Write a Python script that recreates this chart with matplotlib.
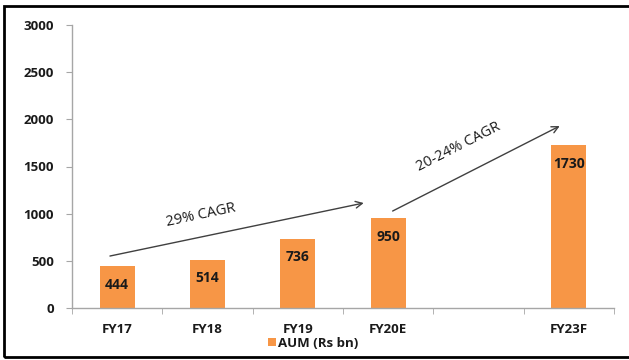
import matplotlib.pyplot as plt
from matplotlib.patches import Rectangle

plt.rcParams['font.family'] = ['Open Sans', 'DejaVu Sans']

# data
categories = ['FY17', 'FY18', 'FY19', 'FY20E', '', 'FY23F']
aum = [444, 514, 736, 950, None, 1730]
y_ticks = [0, 500, 1000, 1500, 2000, 2500, 3000]
series_name = 'AUM (Rs bn)'

bar_color = '#F79646'
axis_color = '#A6A6A6'
text_color = '#1A1A1A'

fig = plt.figure(figsize=(6.29, 3.6), dpi=100)
ax = fig.add_axes([0.1145, 0.1444, 0.8615, 0.7862])

xs = [i for i, v in enumerate(aum) if v is not None]
vals = [v for v in aum if v is not None]
bars = ax.bar(xs, vals, width=0.39, color=bar_color, label=series_name, zorder=2)

for x, v in zip(xs, vals):
    ax.annotate(str(v), (x, v), xytext=(0, -13.5), textcoords='offset points',
                ha='center', va='center', fontsize=10, fontweight='bold', color=text_color)

ax.set_xlim(-0.5, len(categories) - 0.5)
ax.set_ylim(0, 3000)
ax.set_yticks(y_ticks)
ax.set_yticklabels([str(t) for t in y_ticks], fontsize=9.5, fontweight='bold', color=text_color)

ax.set_xticks(range(len(categories)))
ax.set_xticklabels(categories, fontsize=9.5, fontweight='bold', color=text_color)
ax.set_xticks([i - 0.5 for i in range(len(categories) + 1)], minor=True)
ax.tick_params(axis='x', which='major', length=0, pad=11)
ax.tick_params(axis='x', which='minor', length=4, color=axis_color, direction='out')
ax.tick_params(axis='y', length=4, color=axis_color, pad=9)

for side in ['top', 'right']:
    ax.spines[side].set_visible(False)
for side in ['left', 'bottom']:
    ax.spines[side].set_color(axis_color)
    ax.spines[side].set_linewidth(1)

# growth arrows
arrow_kw = dict(arrowstyle='->', color='#404040', lw=1, shrinkA=0, shrinkB=0, mutation_scale=12)
ax.annotate('', xy=(2.73, 1113), xytext=(-0.08, 551), arrowprops=arrow_kw)
ax.annotate('', xy=(4.9, 1929), xytext=(3.05, 1028), arrowprops=arrow_kw)
ax.text(0.93, 986, '29% CAGR', rotation=12, ha='center', va='center',
        fontsize=10.5, color=text_color, rotation_mode='anchor')
ax.text(3.78, 1707, '20-24% CAGR', rotation=27, ha='center', va='center',
        fontsize=10.5, color=text_color, rotation_mode='anchor')

leg = fig.legend(handles=[bars], labels=[series_name], loc='center',
                 bbox_to_anchor=(0.498, 0.047), frameon=False,
                 handlelength=0.6, handleheight=0.6, handletextpad=0.2,
                 prop={'size': 9.5, 'weight': 'bold'})
for t in leg.get_texts():
    t.set_color(text_color)

# outer frame around the picture
fig.patches.append(Rectangle((0.007, 0.007), 1.05, 0.976, transform=fig.transFigure,
                             fill=False, edgecolor='black', lw=2))

fig.savefig('out.png', dpi=100)
